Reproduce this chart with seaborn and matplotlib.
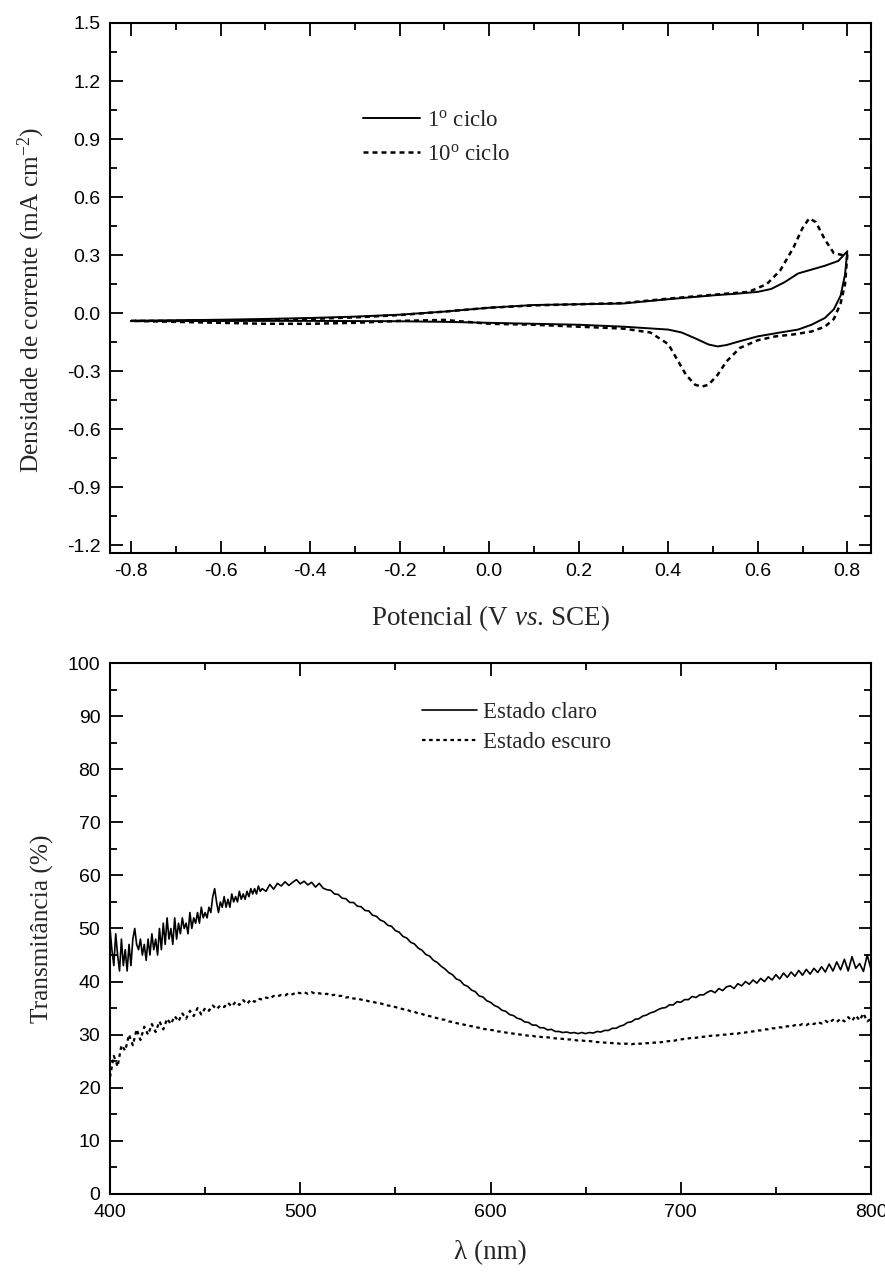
import numpy as np
import matplotlib
matplotlib.use("Agg")
import matplotlib.pyplot as plt
from matplotlib.ticker import MultipleLocator, FormatStrFormatter
import seaborn as sns

# Voltametria cíclica: varredura anódica seguida da catódica (V vs. SCE, mA cm-2)
ciclo1_potencial = [-0.80, -0.70, -0.60, -0.50, -0.40, -0.30, -0.20, -0.10, 0.00, 0.10,
                    0.20, 0.30, 0.40, 0.50, 0.55, 0.60, 0.63, 0.66, 0.69, 0.72, 0.75,
                    0.78, 0.80,
                    0.795, 0.785, 0.77, 0.75, 0.72, 0.69, 0.65, 0.60, 0.56, 0.53, 0.51,
                    0.49, 0.46, 0.43, 0.40, 0.30, 0.20, 0.10, 0.00, -0.10, -0.20, -0.40,
                    -0.60, -0.80]
ciclo1_corrente = [-0.040, -0.037, -0.034, -0.030, -0.025, -0.018, -0.008, 0.008, 0.028, 0.042,
                   0.046, 0.050, 0.072, 0.092, 0.100, 0.110, 0.125, 0.160, 0.205, 0.225, 0.245,
                   0.270, 0.320,
                   0.200, 0.090, 0.020, -0.025, -0.060, -0.085, -0.100, -0.120, -0.145, -0.165, -0.172,
                   -0.162, -0.130, -0.100, -0.085, -0.070, -0.060, -0.055, -0.050, -0.045, -0.042, -0.040,
                   -0.040, -0.040]

ciclo10_potencial = [-0.80, -0.70, -0.60, -0.50, -0.40, -0.30, -0.20, -0.10, 0.00, 0.10,
                     0.20, 0.30, 0.40, 0.50, 0.58, 0.62, 0.65, 0.68, 0.70, 0.715, 0.73,
                     0.75, 0.77, 0.79, 0.80,
                     0.795, 0.785, 0.77, 0.75, 0.72, 0.68, 0.64, 0.60, 0.56, 0.53, 0.51,
                     0.49, 0.475, 0.46, 0.44, 0.42, 0.40, 0.36, 0.30, 0.20, 0.10, 0.00,
                     -0.10, -0.20, -0.30, -0.40, -0.50, -0.60, -0.70, -0.80]
ciclo10_corrente = [-0.040, -0.040, -0.038, -0.035, -0.030, -0.022, -0.010, 0.008, 0.028, 0.040,
                    0.046, 0.052, 0.075, 0.095, 0.110, 0.150, 0.220, 0.340, 0.440, 0.490, 0.470,
                    0.380, 0.310, 0.300, 0.300,
                    0.150, 0.050, -0.030, -0.070, -0.095, -0.110, -0.120, -0.140, -0.180, -0.250, -0.320,
                    -0.370, -0.380, -0.370, -0.320, -0.240, -0.160, -0.100, -0.080, -0.070, -0.060, -0.055,
                    -0.035, -0.040, -0.050, -0.055, -0.055, -0.050, -0.045, -0.040]

# Espectros de transmitância (%): passo de 1 nm até 480 nm e de 2 nm depois
comprimento_onda_claro = list(range(400, 481)) + list(range(482, 801, 2))
estado_claro = [
    # 400-480 nm (1 nm)
    50, 46, 43, 49, 45, 42, 48, 43, 46, 42,
    47, 43, 48, 50, 47, 46, 48, 45, 47, 44,
    48, 45, 49, 46, 48, 45, 50, 46, 51, 47,
    52, 48, 50, 47, 52, 48, 51, 49, 52, 50,
    51, 49, 53, 50, 52, 51, 53, 51, 54, 52,
    53, 52, 54, 53, 56, 57.5, 55, 53, 55, 54,
    56, 54, 55.5, 54, 56.5, 55, 56, 55, 57, 55.5,
    56.5, 55.5, 57, 56, 57.5, 56.5, 57.5, 56.5, 58, 57,
    57.5,
    # 482-800 nm (2 nm)
    57, 58.3, 57.4, 58.5, 58, 58.8, 58.1, 58.7, 59.2, 58.4,
    58.9, 58.2, 58.7, 57.8, 58.5, 57.6, 57.3, 57.2, 56.5, 56.4,
    55.7, 55.6, 54.9, 54.9, 54.2, 54.1, 53.4, 53.3, 52.5, 52.3,
    51.6, 51.3, 50.6, 50.4, 49.6, 49.3, 48.5, 48.2, 47.4, 47.1,
    46.3, 45.9, 45.1, 44.8, 44, 43.6, 42.9, 42.4, 41.7, 41.3,
    40.5, 40.2, 39.4, 39.1, 38.4, 38.1, 37.3, 37.1, 36.4, 36.1,
    35.5, 35.2, 34.6, 34.4, 33.8, 33.6, 33.1, 32.9, 32.4, 32.3,
    31.8, 31.8, 31.3, 31.3, 30.9, 31, 30.6, 30.6, 30.4, 30.5,
    30.3, 30.4, 30.2, 30.4, 30.2, 30.4, 30.3, 30.6, 30.5, 30.8,
    30.8, 31.2, 31.2, 31.6, 31.8, 32.3, 32.4, 32.9, 33, 33.5,
    33.7, 34.1, 34.3, 34.7, 35, 35.1, 35.6, 35.6, 36.2, 36.1,
    36.6, 36.6, 37.2, 37, 37.5, 37.5, 38, 38.3, 37.9, 38.7,
    38.3, 39, 39.2, 38.7, 39.6, 39.2, 40, 39.5, 40.3, 39.7,
    40.6, 40, 40.9, 40.3, 41.3, 40.5, 41.6, 40.8, 41.8, 41,
    42.1, 41.2, 42.3, 41.4, 42.5, 41.7, 42.8, 41.8, 43.3, 42,
    43.7, 42.2, 44.2, 42, 44.7, 42.5, 43.4, 41.9, 45, 42.3]

comprimento_onda_escuro = list(range(400, 801, 2))
estado_escuro = [
    22, 26, 24, 28, 27, 30, 28, 31, 29, 31.5,
    30, 32, 30.5, 32.5, 31, 33, 32, 33.5, 32.5, 34,
    33, 34.5, 33.5, 35, 33.8, 35, 34.5, 35.5, 34.8, 35.5,
    35.2, 36, 35.3, 36.2, 35.6, 36.5, 35.8, 36.6, 36.2, 36.8,
    36.6, 37, 36.8, 37.3, 37.2, 37.5, 37.4, 37.8, 37.6, 38,
    37.8, 38, 37.7, 38, 37.7, 37.8, 37.6, 37.7, 37.4, 37.5,
    37.3, 37.3, 37, 37.1, 36.8, 36.8, 36.6, 36.5, 36.3, 36.2,
    36, 35.9, 35.7, 35.5, 35.4, 35.2, 35, 34.8, 34.7, 34.4,
    34.3, 34, 33.9, 33.6, 33.5, 33.3, 33.1, 32.9, 32.8, 32.5,
    32.4, 32.2, 32, 31.9, 31.7, 31.6, 31.4, 31.3, 31.1, 31,
    30.9, 30.8, 30.6, 30.6, 30.4, 30.3, 30.2, 30.1, 30, 29.9,
    29.8, 29.8, 29.6, 29.6, 29.5, 29.5, 29.4, 29.3, 29.3, 29.2,
    29.1, 29.1, 29, 28.9, 28.9, 28.8, 28.8, 28.7, 28.6, 28.6,
    28.5, 28.5, 28.4, 28.4, 28.3, 28.3, 28.3, 28.2, 28.3, 28.3,
    28.3, 28.4, 28.4, 28.5, 28.5, 28.6, 28.7, 28.8, 28.8, 29,
    29.1, 29.2, 29.3, 29.4, 29.4, 29.6, 29.6, 29.7, 29.8, 29.8,
    29.9, 30, 30, 30.1, 30.2, 30.2, 30.4, 30.4, 30.6, 30.6,
    30.8, 30.8, 31, 31, 31.2, 31.2, 31.4, 31.3, 31.6, 31.5,
    31.8, 31.7, 32, 31.8, 32.2, 32, 32.4, 32.1, 32.6, 32.2,
    32.8, 32.4, 33, 32.5, 33.3, 32.6, 33.6, 32.7, 34, 32.5,
    33]

rotulos_cv = [r"1$^{\mathrm{o}}$ ciclo", r"10$^{\mathrm{o}}$ ciclo"]
rotulos_espectro = ["Estado claro", "Estado escuro"]

sns.set_theme(style="ticks")
plt.rcParams.update({
    "font.family": ["Liberation Sans", "DejaVu Sans"],
    "mathtext.fontset": "custom",
    "mathtext.rm": "Liberation Serif",
    "mathtext.it": "Liberation Serif:italic",
    "mathtext.bf": "Liberation Serif:bold",
    "axes.unicode_minus": False,
    "axes.linewidth": 1.5,
    "axes.edgecolor": "black",
    "xtick.color": "black",
    "ytick.color": "black",
    "figure.facecolor": "white",
    "axes.facecolor": "white",
})

serif = {"family": ["Liberation Serif", "DejaVu Serif"]}
tick_size = 14
xlabel_size = 19.5
ylabel_size = 18.3
legend_size = 16.5

fig = plt.figure(figsize=(8.85, 12.76), dpi=100)
ax1 = fig.add_axes([0.1243, 0.5666, 0.8599, 0.4154])
ax2 = fig.add_axes([0.1243, 0.0643, 0.8599, 0.4161])

solid = "-"

sns.lineplot(x=ciclo1_potencial, y=ciclo1_corrente, sort=False, estimator=None,
             color="black", linewidth=1.4, linestyle=solid, label=rotulos_cv[0], ax=ax1)
sns.lineplot(x=ciclo10_potencial, y=ciclo10_corrente, sort=False, estimator=None,
             color="black", linewidth=1.8, linestyle=(0, (2.0, 1.6)), label=rotulos_cv[1], ax=ax1)

sns.lineplot(x=comprimento_onda_claro, y=estado_claro, sort=False, estimator=None,
             color="black", linewidth=1.2, linestyle=solid, label=rotulos_espectro[0], ax=ax2)
sns.lineplot(x=comprimento_onda_escuro, y=estado_escuro, sort=False, estimator=None,
             color="black", linewidth=1.6, linestyle=(0, (1.6, 1.6)), label=rotulos_espectro[1], ax=ax2)


def style_axes(ax, xmaj, xmin, ymaj, ymin, xfmt, yfmt):
    ax.xaxis.set_major_locator(MultipleLocator(xmaj))
    ax.xaxis.set_minor_locator(MultipleLocator(xmin))
    ax.yaxis.set_major_locator(MultipleLocator(ymaj))
    ax.yaxis.set_minor_locator(MultipleLocator(ymin))
    ax.xaxis.set_major_formatter(FormatStrFormatter(xfmt))
    ax.yaxis.set_major_formatter(FormatStrFormatter(yfmt))
    ax.tick_params(which="both", direction="in", top=True, right=True,
                   bottom=True, left=True, width=1.3, colors="black")
    ax.tick_params(which="major", length=9, labelsize=tick_size, pad=7)
    ax.tick_params(which="minor", length=5)
    for s in ax.spines.values():
        s.set_visible(True)
        s.set_linewidth(1.5)
        s.set_color("black")
    ax.grid(False)


ax1.set_xlim(-0.847, 0.853)
ax1.set_ylim(-1.24, 1.5)
style_axes(ax1, 0.2, 0.1, 0.3, 0.15, "%.1f", "%.1f")
ax1.set_xlabel(r"Potencial (V $\mathit{vs}$. SCE)", fontdict=serif, fontsize=xlabel_size, labelpad=17)
ax1.set_ylabel(r"Densidade de corrente (mA cm$^{-2}$)", fontdict=serif, fontsize=ylabel_size)
ax1.yaxis.set_label_coords(-0.083, 0.477)

ax2.set_xlim(400, 800)
ax2.set_ylim(0, 100)
style_axes(ax2, 100, 50, 10, 5, "%d", "%d")
ax2.set_xlabel("λ (nm)", fontdict=serif, fontsize=xlabel_size, labelpad=14)
ax2.set_ylabel("Transmitância (%)", fontdict=serif, fontsize=ylabel_size, labelpad=10)

leg_prop = {"family": ["Liberation Serif", "DejaVu Serif"], "size": legend_size}
ax1.legend(loc="upper left", bbox_to_anchor=(0.332, 0.836), frameon=False, prop=leg_prop,
           handlelength=2.5, handletextpad=0.3, labelspacing=0.56, borderpad=0, borderaxespad=0)
ax2.legend(loc="upper left", bbox_to_anchor=(0.41, 0.926), frameon=False, prop=leg_prop,
           handlelength=2.4, handletextpad=0.25, labelspacing=0.37, borderpad=0, borderaxespad=0)

fig.savefig("out.png", dpi=100, facecolor="white")
